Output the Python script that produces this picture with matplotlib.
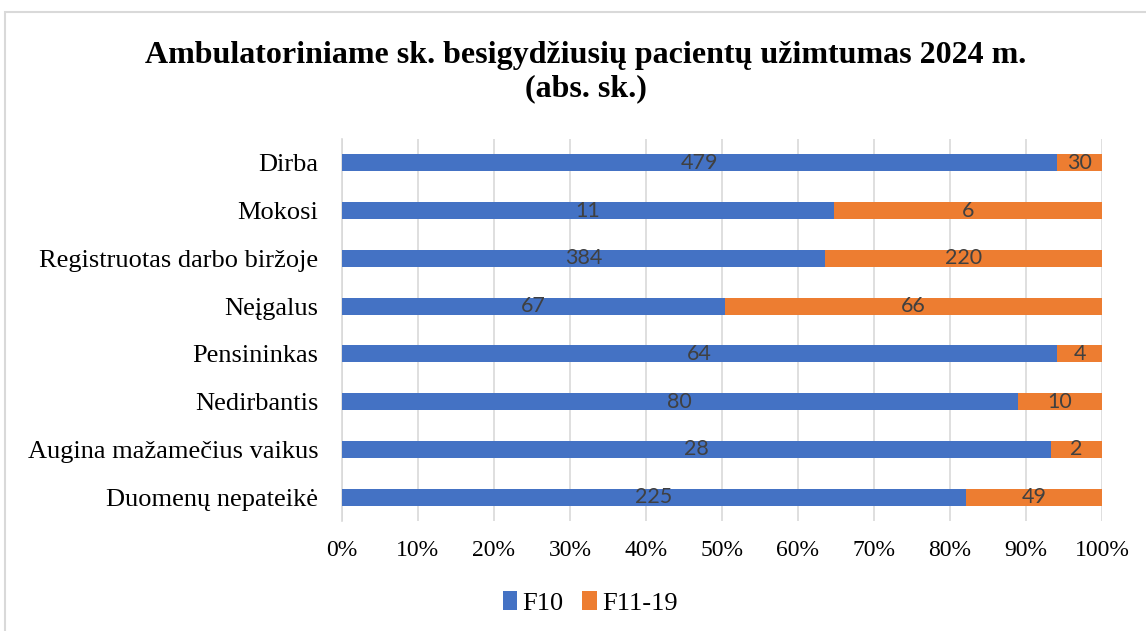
import matplotlib.pyplot as plt
import numpy as np
from matplotlib.patches import Rectangle

# užimtumo grupės ir pacientų skaičiai pagal diagnozę
categories = ['Dirba', 'Mokosi', 'Registruotas darbo biržoje', 'Neįgalus',
              'Pensininkas', 'Nedirbantis', 'Augina mažamečius vaikus',
              'Duomenų nepateikė']
f10 = [479, 11, 384, 67, 64, 80, 28, 225]
f11_19 = [30, 6, 220, 66, 4, 10, 2, 49]
tick_labels = ['0%', '10%', '20%', '30%', '40%', '50%', '60%', '70%', '80%', '90%', '100%']

blue = '#4472c4'
orange = '#ed7d31'
serif = ['Liberation Serif', 'DejaVu Serif']

fig = plt.figure(figsize=(11.46, 6.31), dpi=100)
ax = fig.add_axes([0.2984, 0.1743, 0.6632, 0.6054])

# rėmelis aplink visą diagramą
fig.patches.append(Rectangle((5 / 1146, -0.1), 1.2, 1.1 - 12 / 631,
                             transform=fig.transFigure, fill=False,
                             edgecolor='#d9d9d9', linewidth=1.5))

a = np.array(f10, dtype=float)
b = np.array(f11_19, dtype=float)
tot = a + b
pa = a / tot * 100
pb = b / tot * 100
y = np.arange(len(categories))

bars1 = ax.barh(y, pa, height=0.36, color=blue, label='F10', zorder=3)
bars2 = ax.barh(y, pb, left=pa, height=0.36, color=orange, label='F11-19', zorder=3)

for bars, vals in ((bars1, f10), (bars2, f11_19)):
    ax.bar_label(bars, labels=[str(v) for v in vals], label_type='center',
                 color='#404040', fontsize=15.5, family=['Lato', 'DejaVu Sans'])

ax.set_ylim(len(categories) - 0.5, -0.5)
ax.set_xlim(0, 100)
ax.set_yticks(y)
ax.set_yticklabels(categories, fontsize=19, family=serif)
ax.set_xticks(np.arange(0, 101, 10))
ax.set_xticklabels(tick_labels, fontsize=17, family=serif)
ax.tick_params(axis='y', length=0, pad=17)
ax.tick_params(axis='x', length=0, pad=14)
ax.grid(axis='x', color='#d9d9d9', linewidth=1.2, zorder=0)
for s in ('top', 'right', 'bottom'):
    ax.spines[s].set_visible(False)
ax.spines['left'].set_color('#d9d9d9')
ax.spines['left'].set_linewidth(1.2)

fig.text(586 / 1146, 1 - 72 / 631,
         'Ambulatoriniame sk. besigydžiusių pacientų užimtumas 2024 m.\n(abs. sk.)',
         ha='center', va='center', fontsize=23, fontweight='bold',
         family=serif, linespacing=1.2)

fig.legend(loc='center', bbox_to_anchor=(590 / 1146, 1 - 603 / 631), ncol=2,
           frameon=False, prop={'family': serif, 'size': 19},
           handlelength=0.55, handleheight=0.7, handletextpad=0.2, columnspacing=0.7)

fig.savefig('out.png', dpi=100)
